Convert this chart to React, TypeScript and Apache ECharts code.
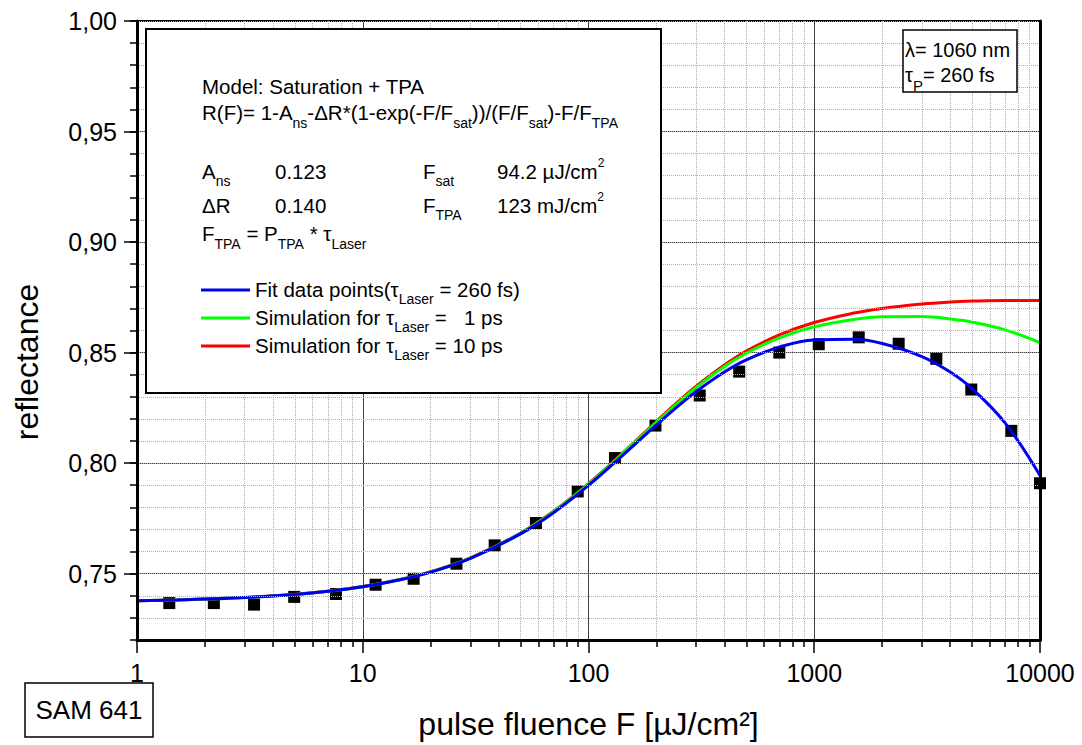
import React, { useEffect, useRef } from "react";
import * as echarts from "echarts";

// ---- data ----
const MEAS_FLUENCE = [1.39, 2.19, 3.3, 4.97, 7.61, 11.4, 16.8, 26.0, 38.4, 58.5, 89.6, 131, 198, 311, 465, 700, 1047, 1574, 2366, 3473, 4961, 7463, 10000];
const MEAS_REFLECTANCE = [0.7367, 0.7367, 0.736, 0.7395, 0.7408, 0.745, 0.7477, 0.7545, 0.7628, 0.7729, 0.7872, 0.8023, 0.817, 0.8306, 0.8414, 0.85, 0.8538, 0.8569, 0.854, 0.8472, 0.8333, 0.8146, 0.7909];

const CURVE_FLUENCE = [1, 1.5, 2, 3, 5, 7, 10, 15, 20, 30, 50, 70, 100, 150, 200, 250, 300, 400, 500, 700, 1000, 1500, 2000, 3000, 4000, 5000, 7000, 10000];
const FIT_260FS = [0.7377, 0.7381, 0.7385, 0.7392, 0.7406, 0.742, 0.7441, 0.7475, 0.7507, 0.7569, 0.768, 0.7776, 0.7899, 0.8058, 0.8173, 0.8259, 0.8324, 0.8412, 0.8467, 0.8525, 0.8557, 0.856, 0.8541, 0.8482, 0.8412, 0.8337, 0.8182, 0.7944];
const SIM_1PS = [0.7377, 0.7381, 0.7385, 0.7392, 0.7406, 0.7421, 0.7441, 0.7476, 0.7508, 0.757, 0.7683, 0.7781, 0.7905, 0.8067, 0.8185, 0.8274, 0.8342, 0.8437, 0.8497, 0.8567, 0.8617, 0.865, 0.8662, 0.8663, 0.8652, 0.8638, 0.8603, 0.8545];
const SIM_10PS = [0.7377, 0.7381, 0.7385, 0.7392, 0.7407, 0.7421, 0.7442, 0.7476, 0.7509, 0.7571, 0.7684, 0.7782, 0.7907, 0.8069, 0.8189, 0.8279, 0.8348, 0.8444, 0.8507, 0.858, 0.8636, 0.8679, 0.87, 0.872, 0.8729, 0.8733, 0.8736, 0.8736];

const X_MAJOR_GRID = [10, 100, 1000];
const X_MINOR = [2, 3, 4, 5, 6, 7, 8, 9, 20, 30, 40, 50, 60, 70, 80, 90, 200, 300, 400, 500, 600, 700, 800, 900, 2000, 3000, 4000, 5000, 6000, 7000, 8000, 9000];
const Y_TICKS = [0.75, 0.8, 0.85, 0.9, 0.95, 1.0];
const Y_MAJOR_GRID = [0.75, 0.8, 0.85, 0.9, 0.95];

const FONT = "'Liberation Sans', Arial, Helvetica, sans-serif";

const zip = (xs: number[], ys: number[]) => xs.map((x, i) => [x, ys[i]]);

type Seg = [string, "n" | "s" | "p"];

let measureCtx: CanvasRenderingContext2D | null = null;
function measure(text: string, size: number): number {
  if (!measureCtx) measureCtx = document.createElement("canvas").getContext("2d");
  measureCtx!.font = `${size}px ${FONT}`;
  return measureCtx!.measureText(text).width;
}

// lay out a line of text fragments (normal / subscript / superscript) on a baseline
function textRun(x0: number, baseline: number, segs: Seg[], main = 20.5, sub = 14, sup = 12, subDrop = 7.5) {
  const els: any[] = [];
  let x = x0;
  for (const [t, k] of segs) {
    const size = k === "n" ? main : k === "s" ? sub : sup;
    const b = k === "n" ? baseline : k === "s" ? baseline + subDrop : baseline - 11.5;
    const trimmed = t.replace(/^ +/, "");
    const lead = t.length - trimmed.length;
    const xDraw = x + (lead ? measure(" ".repeat(lead), size) : 0);
    els.push({
      type: "text",
      z: 101,
      x: xDraw,
      y: b - 0.3465 * size,
      style: { text: trimmed, font: `${size}px ${FONT}`, fill: "#000", align: "left", verticalAlign: "middle" },
    });
    x += measure(t, size);
  }
  return els;
}

export default function App() {
  const ref = useRef<HTMLDivElement>(null);
  useEffect(() => {
    const chart = echarts.init(ref.current!, null, { renderer: "svg" });
    const gridStyleMinor = { type: "dotted", color: "#b0b0b0", width: 1 };
    const gridStyleMajor = { type: "solid", color: "#404040", width: 1 };
    const option: any = {
      animation: false,
      backgroundColor: "#fff",
      grid: { left: 137, right: 42, top: 21, bottom: 104, show: true, borderColor: "#000", borderWidth: 2, backgroundColor: "transparent" },
      xAxis: [
        {
          type: "log",
          logBase: 10,
          min: 1,
          max: 10000,
          z: 10,
          axisLine: { show: true, lineStyle: { color: "#000", width: 3 } },
          axisTick: { show: true, inside: false, length: 13, lineStyle: { color: "#000", width: 1.5 } },
          axisLabel: { fontSize: 25, fontFamily: FONT, color: "#000", margin: 20, formatter: (v: number) => String(Math.round(v)) },
          splitLine: { show: false },
          name: "pulse fluence F [µJ/cm²]",
          nameLocation: "middle",
          nameGap: 68,
          nameTextStyle: { fontSize: 32, fontFamily: FONT, color: "#000" },
        },
        {
          type: "log",
          logBase: 10,
          min: 1,
          max: 10000,
          position: "bottom",
          z: 10,
          axisLine: { show: false },
          axisTick: { show: true, inside: false, length: 7, customValues: X_MINOR, lineStyle: { color: "#000", width: 1.5 } },
          axisLabel: { show: false },
          splitLine: { show: false },
        },
      ],
      yAxis: [
        {
          type: "value",
          min: 0.72,
          max: 1.0,
          interval: 0.01,
          z: 10,
          axisLine: { show: true, lineStyle: { color: "#000", width: 3 } },
          axisTick: { show: true, inside: false, length: 7, lineStyle: { color: "#000", width: 1.5 } },
          axisLabel: { show: false },
          splitLine: { show: true, lineStyle: gridStyleMinor },
        },
        {
          type: "value",
          min: 0.72,
          max: 1.0,
          interval: 0.01,
          position: "left",
          z: 10,
          axisLine: { show: false },
          axisTick: { show: true, inside: false, length: 13, customValues: Y_TICKS, lineStyle: { color: "#000", width: 1.5 } },
          axisLabel: {
            show: true,
            customValues: Y_TICKS,
            fontSize: 25,
            fontFamily: FONT,
            color: "#000",
            margin: 20,
            formatter: (v: number) => v.toFixed(2).replace(".", ","),
          },
          splitLine: { show: false },
        },
        {
          type: "value",
          min: 0.72,
          max: 1.0,
          position: "right",
          z: 10,
          axisLine: { show: true, lineStyle: { color: "#000", width: 3 } },
          axisTick: { show: false },
          axisLabel: { show: false },
          splitLine: { show: false },
        },
      ],
      series: [
        {
          name: "measured",
          type: "scatter",
          xAxisIndex: 0,
          yAxisIndex: 0,
          symbol: "rect",
          symbolSize: 12,
          itemStyle: { color: "#000", opacity: 1 },
          z: 3,
          data: zip(MEAS_FLUENCE, MEAS_REFLECTANCE),
          markLine: {
            silent: true,
            z: 1,
            symbol: ["none", "none"],
            label: { show: false },
            animation: false,
            data: [
              ...X_MINOR.map((v) => ({ xAxis: v, lineStyle: gridStyleMinor })),
              ...X_MAJOR_GRID.map((v) => ({ xAxis: v, lineStyle: gridStyleMajor })),
              ...Y_MAJOR_GRID.map((v) => ({ yAxis: v, lineStyle: gridStyleMajor })),
            ],
          },
        },
        {
          name: "Simulation 10 ps",
          type: "line",
          xAxisIndex: 0,
          yAxisIndex: 0,
          showSymbol: false,
          smooth: 0.4,
          lineStyle: { color: "#ff0000", width: 3 },
          z: 4,
          data: zip(CURVE_FLUENCE, SIM_10PS),
        },
        {
          name: "Simulation 1 ps",
          type: "line",
          xAxisIndex: 0,
          yAxisIndex: 0,
          showSymbol: false,
          smooth: 0.4,
          lineStyle: { color: "#00ff00", width: 3 },
          z: 5,
          data: zip(CURVE_FLUENCE, SIM_1PS),
        },
        {
          name: "Fit 260 fs",
          type: "line",
          xAxisIndex: 0,
          yAxisIndex: 0,
          showSymbol: false,
          smooth: 0.4,
          lineStyle: { color: "#0000ee", width: 3 },
          z: 6,
          data: zip(CURVE_FLUENCE, FIT_260FS),
        },
      ],
      graphic: [
        { type: "rect", z: 100, shape: { x: 146, y: 29, width: 515, height: 364 }, style: { fill: "#fff", stroke: "#000", lineWidth: 2 } },
        ...textRun(202, 94, [["Model: Saturation + TPA", "n"]]),
        ...textRun(202, 120, [
          ["R(F)= 1-A", "n"], ["ns", "s"], ["-ΔR*(1-exp(-F/F", "n"], ["sat", "s"], ["))/(F/F", "n"], ["sat", "s"], [")-F/F", "n"], ["TPA", "s"],
        ]),
        ...textRun(202, 178.5, [["A", "n"], ["ns", "s"]]),
        ...textRun(275, 178.5, [["0.123", "n"]]),
        ...textRun(423, 178.5, [["F", "n"], ["sat", "s"]]),
        ...textRun(497, 178.5, [["94.2 µJ/cm", "n"], ["2", "p"]]),
        ...textRun(202, 212.5, [["ΔR", "n"]]),
        ...textRun(275, 212.5, [["0.140", "n"]]),
        ...textRun(423, 212.5, [["F", "n"], ["TPA", "s"]]),
        ...textRun(497, 212.5, [["123 mJ/cm", "n"], ["2", "p"]]),
        ...textRun(202, 241, [["F", "n"], ["TPA", "s"], [" = P", "n"], ["TPA", "s"], [" * τ", "n"], ["Laser", "s"]]),
        { type: "line", z: 101, shape: { x1: 201, y1: 290, x2: 250, y2: 290 }, style: { stroke: "#0000ee", lineWidth: 3 } },
        { type: "line", z: 101, shape: { x1: 201, y1: 318, x2: 250, y2: 318 }, style: { stroke: "#00ff00", lineWidth: 3 } },
        { type: "line", z: 101, shape: { x1: 201, y1: 346, x2: 250, y2: 346 }, style: { stroke: "#ff0000", lineWidth: 3 } },
        ...textRun(255, 296.5, [["Fit data points(τ", "n"], ["Laser", "s"], [" = 260 fs)", "n"]]),
        ...textRun(255, 324.5, [["Simulation for τ", "n"], ["Laser", "s"], [" = \u20071 ps", "n"]]),
        ...textRun(255, 352.5, [["Simulation for τ", "n"], ["Laser", "s"], [" = 10 ps", "n"]]),
        { type: "rect", z: 100, shape: { x: 903, y: 30, width: 114, height: 62 }, style: { fill: "#fff", stroke: "#000", lineWidth: 1.5 } },
        ...textRun(905, 56.5, [["λ= 1060 nm", "n"]], 20),
        ...textRun(905, 81.5, [["τ", "n"], ["P", "s"], ["= 260 fs", "n"]], 20, 15, 12, 9),
        { type: "rect", z: 100, shape: { x: 25, y: 683, width: 128, height: 54 }, style: { fill: "#fff", stroke: "#000", lineWidth: 1.5 } },
        {
          type: "text",
          z: 101,
          x: 89,
          y: 710,
          style: { text: "SAM 641", font: `26px ${FONT}`, fill: "#000", align: "center", verticalAlign: "middle" },
        },
        {
          type: "text",
          z: 101,
          x: 27,
          y: 362,
          rotation: Math.PI / 2,
          style: { text: "reflectance", font: `32px ${FONT}`, fill: "#000", align: "center", verticalAlign: "middle" },
        },
      ],
    };
    chart.setOption(option);
    return () => chart.dispose();
  }, []);
  return (
    <div
      ref={ref}
      style={{ position: "fixed", left: 0, top: 0, width: 1082, height: 745, background: "#fff" }}
    />
  );
}
